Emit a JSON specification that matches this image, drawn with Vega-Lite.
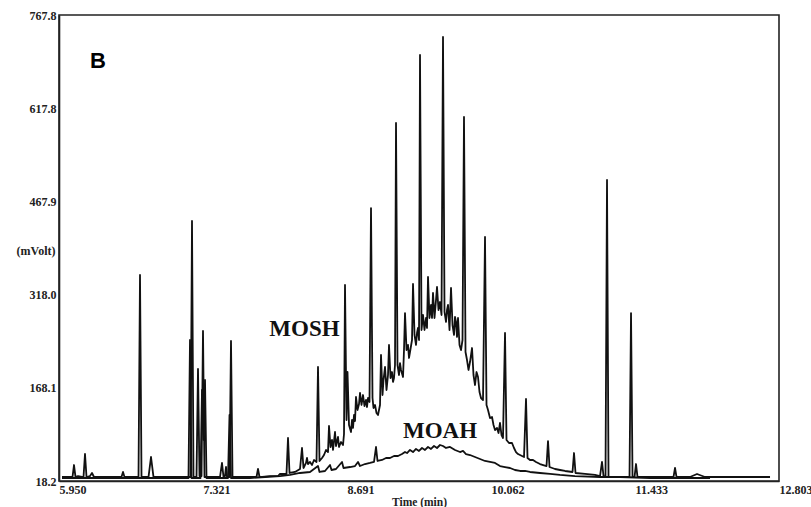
{
  "$schema": "https://vega.github.io/schema/vega-lite/v6.json",
  "width": 720,
  "height": 466,
  "autosize": "none",
  "padding": {"left": 59, "top": 15, "right": 32, "bottom": 26},
  "background": "white",
  "config": {
    "view": {"stroke": "#222", "strokeWidth": 1.6},
    "font": "Liberation Serif"
  },
  "datasets": {
    "signal": [
      {"trace": "MOSH", "t": 5.9786, "mv": 24.6}, {"trace": "MOSH", "t": 6.0547, "mv": 24.6}, {"trace": "MOSH", "t": 6.0785, "mv": 24.6},
      {"trace": "MOSH", "t": 6.0928, "mv": 43.9}, {"trace": "MOSH", "t": 6.1071, "mv": 24.6}, {"trace": "MOSH", "t": 6.1308, "mv": 26.2},
      {"trace": "MOSH", "t": 6.1832, "mv": 24.6}, {"trace": "MOSH", "t": 6.1975, "mv": 61.6}, {"trace": "MOSH", "t": 6.2118, "mv": 24.6},
      {"trace": "MOSH", "t": 6.2451, "mv": 26.2}, {"trace": "MOSH", "t": 6.2641, "mv": 31.1}, {"trace": "MOSH", "t": 6.2831, "mv": 24.6},
      {"trace": "MOSH", "t": 6.4354, "mv": 24.6}, {"trace": "MOSH", "t": 6.5449, "mv": 24.6}, {"trace": "MOSH", "t": 6.5592, "mv": 32.7},
      {"trace": "MOSH", "t": 6.5734, "mv": 24.6}, {"trace": "MOSH", "t": 6.7067, "mv": 24.6}, {"trace": "MOSH", "t": 6.721, "mv": 349.6},
      {"trace": "MOSH", "t": 6.7353, "mv": 24.6}, {"trace": "MOSH", "t": 6.8019, "mv": 24.6}, {"trace": "MOSH", "t": 6.8257, "mv": 56.8},
      {"trace": "MOSH", "t": 6.8495, "mv": 24.6}, {"trace": "MOSH", "t": 7.0541, "mv": 24.6}, {"trace": "MOSH", "t": 7.2017, "mv": 24.6},
      {"trace": "MOSH", "t": 7.2159, "mv": 436.4}, {"trace": "MOSH", "t": 7.2302, "mv": 24.6}, {"trace": "MOSH", "t": 7.2588, "mv": 24.6},
      {"trace": "MOSH", "t": 7.273, "mv": 198.4}, {"trace": "MOSH", "t": 7.2873, "mv": 26.2}, {"trace": "MOSH", "t": 7.3064, "mv": 26.2},
      {"trace": "MOSH", "t": 7.3206, "mv": 259.5}, {"trace": "MOSH", "t": 7.3349, "mv": 24.6}, {"trace": "MOSH", "t": 7.4824, "mv": 24.6},
      {"trace": "MOSH", "t": 7.5015, "mv": 47.2}, {"trace": "MOSH", "t": 7.5158, "mv": 24.6}, {"trace": "MOSH", "t": 7.53, "mv": 26.2},
      {"trace": "MOSH", "t": 7.5396, "mv": 40.7}, {"trace": "MOSH", "t": 7.5491, "mv": 24.6}, {"trace": "MOSH", "t": 7.5729, "mv": 24.6},
      {"trace": "MOSH", "t": 7.5871, "mv": 243.4}, {"trace": "MOSH", "t": 7.6014, "mv": 24.6}, {"trace": "MOSH", "t": 7.7204, "mv": 24.6},
      {"trace": "MOSH", "t": 7.8299, "mv": 24.6}, {"trace": "MOSH", "t": 7.8441, "mv": 37.5}, {"trace": "MOSH", "t": 7.8584, "mv": 24.6},
      {"trace": "MOSH", "t": 7.9584, "mv": 26.2}, {"trace": "MOSH", "t": 8.0345, "mv": 26.2}, {"trace": "MOSH", "t": 8.0535, "mv": 29.5},
      {"trace": "MOSH", "t": 8.1154, "mv": 29.5}, {"trace": "MOSH", "t": 8.1297, "mv": 87.4}, {"trace": "MOSH", "t": 8.144, "mv": 31.1},
      {"trace": "MOSH", "t": 8.1963, "mv": 32.7}, {"trace": "MOSH", "t": 8.2439, "mv": 37.5}, {"trace": "MOSH", "t": 8.2629, "mv": 71.3},
      {"trace": "MOSH", "t": 8.2772, "mv": 39.1}, {"trace": "MOSH", "t": 8.301, "mv": 47.2}, {"trace": "MOSH", "t": 8.3105, "mv": 55.2},
      {"trace": "MOSH", "t": 8.3201, "mv": 45.5}, {"trace": "MOSH", "t": 8.3391, "mv": 48.8}, {"trace": "MOSH", "t": 8.3581, "mv": 43.9},
      {"trace": "MOSH", "t": 8.3772, "mv": 52.0}, {"trace": "MOSH", "t": 8.401, "mv": 48.8}, {"trace": "MOSH", "t": 8.4152, "mv": 201.6},
      {"trace": "MOSH", "t": 8.4295, "mv": 50.4}, {"trace": "MOSH", "t": 8.4533, "mv": 55.2}, {"trace": "MOSH", "t": 8.4723, "mv": 60.0},
      {"trace": "MOSH", "t": 8.4914, "mv": 68.1}, {"trace": "MOSH", "t": 8.5104, "mv": 64.8}, {"trace": "MOSH", "t": 8.5199, "mv": 106.7},
      {"trace": "MOSH", "t": 8.5342, "mv": 72.9}, {"trace": "MOSH", "t": 8.5485, "mv": 84.2}, {"trace": "MOSH", "t": 8.558, "mv": 68.1},
      {"trace": "MOSH", "t": 8.5771, "mv": 97.0}, {"trace": "MOSH", "t": 8.5866, "mv": 74.5}, {"trace": "MOSH", "t": 8.6056, "mv": 89.0},
      {"trace": "MOSH", "t": 8.6151, "mv": 72.9}, {"trace": "MOSH", "t": 8.6342, "mv": 80.9}, {"trace": "MOSH", "t": 8.6532, "mv": 76.1},
      {"trace": "MOSH", "t": 8.6627, "mv": 93.8}, {"trace": "MOSH", "t": 8.6722, "mv": 333.5}, {"trace": "MOSH", "t": 8.6865, "mv": 116.3},
      {"trace": "MOSH", "t": 8.696, "mv": 193.5}, {"trace": "MOSH", "t": 8.7103, "mv": 108.3}, {"trace": "MOSH", "t": 8.7293, "mv": 97.0},
      {"trace": "MOSH", "t": 8.7389, "mv": 116.3}, {"trace": "MOSH", "t": 8.7484, "mv": 103.5}, {"trace": "MOSH", "t": 8.758, "mv": 124.4},
      {"trace": "MOSH", "t": 8.7674, "mv": 114.7}, {"trace": "MOSH", "t": 8.7769, "mv": 153.3}, {"trace": "MOSH", "t": 8.7912, "mv": 132.4},
      {"trace": "MOSH", "t": 8.8055, "mv": 142.1}, {"trace": "MOSH", "t": 8.815, "mv": 159.8}, {"trace": "MOSH", "t": 8.8293, "mv": 140.5},
      {"trace": "MOSH", "t": 8.8436, "mv": 156.5}, {"trace": "MOSH", "t": 8.8578, "mv": 138.8}, {"trace": "MOSH", "t": 8.8721, "mv": 148.5},
      {"trace": "MOSH", "t": 8.8816, "mv": 137.2}, {"trace": "MOSH", "t": 8.8912, "mv": 151.7}, {"trace": "MOSH", "t": 8.9054, "mv": 145.3},
      {"trace": "MOSH", "t": 8.9197, "mv": 457.3}, {"trace": "MOSH", "t": 8.934, "mv": 151.7}, {"trace": "MOSH", "t": 8.9435, "mv": 135.6},
      {"trace": "MOSH", "t": 8.9578, "mv": 140.5}, {"trace": "MOSH", "t": 8.9721, "mv": 127.6}, {"trace": "MOSH", "t": 8.9863, "mv": 124.4},
      {"trace": "MOSH", "t": 9.0054, "mv": 140.5}, {"trace": "MOSH", "t": 9.0149, "mv": 220.9}, {"trace": "MOSH", "t": 9.0292, "mv": 156.5},
      {"trace": "MOSH", "t": 9.0387, "mv": 180.7}, {"trace": "MOSH", "t": 9.053, "mv": 201.6}, {"trace": "MOSH", "t": 9.0672, "mv": 164.6},
      {"trace": "MOSH", "t": 9.0815, "mv": 188.7}, {"trace": "MOSH", "t": 9.091, "mv": 237.0}, {"trace": "MOSH", "t": 9.1053, "mv": 183.9},
      {"trace": "MOSH", "t": 9.1196, "mv": 193.5}, {"trace": "MOSH", "t": 9.1291, "mv": 177.5}, {"trace": "MOSH", "t": 9.1386, "mv": 183.9},
      {"trace": "MOSH", "t": 9.1481, "mv": 204.8}, {"trace": "MOSH", "t": 9.1577, "mv": 594.1}, {"trace": "MOSH", "t": 9.1719, "mv": 204.8},
      {"trace": "MOSH", "t": 9.1862, "mv": 188.7}, {"trace": "MOSH", "t": 9.1957, "mv": 207.9}, {"trace": "MOSH", "t": 9.2053, "mv": 196.8},
      {"trace": "MOSH", "t": 9.2243, "mv": 185.5}, {"trace": "MOSH", "t": 9.2338, "mv": 228.9}, {"trace": "MOSH", "t": 9.2433, "mv": 288.4},
      {"trace": "MOSH", "t": 9.2576, "mv": 228.9}, {"trace": "MOSH", "t": 9.2719, "mv": 237.0}, {"trace": "MOSH", "t": 9.2814, "mv": 216.1},
      {"trace": "MOSH", "t": 9.2909, "mv": 225.7}, {"trace": "MOSH", "t": 9.31, "mv": 245.0}, {"trace": "MOSH", "t": 9.3195, "mv": 335.1},
      {"trace": "MOSH", "t": 9.3338, "mv": 253.1}, {"trace": "MOSH", "t": 9.348, "mv": 237.0}, {"trace": "MOSH", "t": 9.3576, "mv": 256.3},
      {"trace": "MOSH", "t": 9.3671, "mv": 264.3}, {"trace": "MOSH", "t": 9.3766, "mv": 245.0}, {"trace": "MOSH", "t": 9.3861, "mv": 703.5},
      {"trace": "MOSH", "t": 9.4004, "mv": 261.1}, {"trace": "MOSH", "t": 9.4147, "mv": 285.2}, {"trace": "MOSH", "t": 9.4289, "mv": 261.1},
      {"trace": "MOSH", "t": 9.4432, "mv": 280.4}, {"trace": "MOSH", "t": 9.4527, "mv": 264.3}, {"trace": "MOSH", "t": 9.4623, "mv": 346.4},
      {"trace": "MOSH", "t": 9.4765, "mv": 280.4}, {"trace": "MOSH", "t": 9.4908, "mv": 301.3}, {"trace": "MOSH", "t": 9.5003, "mv": 280.4},
      {"trace": "MOSH", "t": 9.5098, "mv": 320.6}, {"trace": "MOSH", "t": 9.5241, "mv": 280.4}, {"trace": "MOSH", "t": 9.5384, "mv": 309.4},
      {"trace": "MOSH", "t": 9.5479, "mv": 330.3}, {"trace": "MOSH", "t": 9.5622, "mv": 293.3}, {"trace": "MOSH", "t": 9.5765, "mv": 306.1},
      {"trace": "MOSH", "t": 9.5908, "mv": 285.2}, {"trace": "MOSH", "t": 9.605, "mv": 732.4}, {"trace": "MOSH", "t": 9.6193, "mv": 290.1},
      {"trace": "MOSH", "t": 9.6336, "mv": 274.0}, {"trace": "MOSH", "t": 9.6431, "mv": 293.3}, {"trace": "MOSH", "t": 9.6526, "mv": 301.3},
      {"trace": "MOSH", "t": 9.6669, "mv": 261.1}, {"trace": "MOSH", "t": 9.6812, "mv": 328.7}, {"trace": "MOSH", "t": 9.6955, "mv": 269.1},
      {"trace": "MOSH", "t": 9.7097, "mv": 253.1}, {"trace": "MOSH", "t": 9.7192, "mv": 282.0}, {"trace": "MOSH", "t": 9.7288, "mv": 274.0},
      {"trace": "MOSH", "t": 9.7383, "mv": 250.0}, {"trace": "MOSH", "t": 9.7478, "mv": 280.4}, {"trace": "MOSH", "t": 9.7621, "mv": 237.0},
      {"trace": "MOSH", "t": 9.7764, "mv": 228.9}, {"trace": "MOSH", "t": 9.7906, "mv": 245.0}, {"trace": "MOSH", "t": 9.8048, "mv": 603.7},
      {"trace": "MOSH", "t": 9.8192, "mv": 225.7}, {"trace": "MOSH", "t": 9.8335, "mv": 212.8}, {"trace": "MOSH", "t": 9.8477, "mv": 196.8},
      {"trace": "MOSH", "t": 9.862, "mv": 209.6}, {"trace": "MOSH", "t": 9.8811, "mv": 232.1}, {"trace": "MOSH", "t": 9.8953, "mv": 188.7},
      {"trace": "MOSH", "t": 9.9096, "mv": 172.6}, {"trace": "MOSH", "t": 9.9239, "mv": 193.5}, {"trace": "MOSH", "t": 9.9382, "mv": 185.5},
      {"trace": "MOSH", "t": 9.9524, "mv": 161.4}, {"trace": "MOSH", "t": 9.9667, "mv": 151.7}, {"trace": "MOSH", "t": 9.9858, "mv": 148.5},
      {"trace": "MOSH", "t": 10.0048, "mv": 410.7}, {"trace": "MOSH", "t": 10.0191, "mv": 140.5}, {"trace": "MOSH", "t": 10.0334, "mv": 132.4},
      {"trace": "MOSH", "t": 10.0524, "mv": 119.5}, {"trace": "MOSH", "t": 10.0714, "mv": 121.2}, {"trace": "MOSH", "t": 10.0857, "mv": 108.3},
      {"trace": "MOSH", "t": 10.1, "mv": 100.2}, {"trace": "MOSH", "t": 10.119, "mv": 103.5}, {"trace": "MOSH", "t": 10.1333, "mv": 95.4},
      {"trace": "MOSH", "t": 10.1476, "mv": 111.5}, {"trace": "MOSH", "t": 10.1618, "mv": 92.2}, {"trace": "MOSH", "t": 10.1761, "mv": 87.4},
      {"trace": "MOSH", "t": 10.1952, "mv": 256.3}, {"trace": "MOSH", "t": 10.2094, "mv": 84.2}, {"trace": "MOSH", "t": 10.2332, "mv": 79.3},
      {"trace": "MOSH", "t": 10.2618, "mv": 79.3}, {"trace": "MOSH", "t": 10.2808, "mv": 71.3}, {"trace": "MOSH", "t": 10.2999, "mv": 64.8},
      {"trace": "MOSH", "t": 10.3189, "mv": 61.6}, {"trace": "MOSH", "t": 10.3379, "mv": 60.0}, {"trace": "MOSH", "t": 10.376, "mv": 56.8},
      {"trace": "MOSH", "t": 10.395, "mv": 150.1}, {"trace": "MOSH", "t": 10.4093, "mv": 55.2}, {"trace": "MOSH", "t": 10.4331, "mv": 52.0},
      {"trace": "MOSH", "t": 10.4617, "mv": 52.0}, {"trace": "MOSH", "t": 10.4902, "mv": 48.8}, {"trace": "MOSH", "t": 10.5283, "mv": 45.5},
      {"trace": "MOSH", "t": 10.5902, "mv": 42.3}, {"trace": "MOSH", "t": 10.6044, "mv": 82.5}, {"trace": "MOSH", "t": 10.6187, "mv": 40.7},
      {"trace": "MOSH", "t": 10.6711, "mv": 37.5}, {"trace": "MOSH", "t": 10.7187, "mv": 35.9}, {"trace": "MOSH", "t": 10.7663, "mv": 34.3},
      {"trace": "MOSH", "t": 10.8377, "mv": 32.7}, {"trace": "MOSH", "t": 10.8519, "mv": 63.2}, {"trace": "MOSH", "t": 10.8662, "mv": 31.1},
      {"trace": "MOSH", "t": 10.9566, "mv": 29.5}, {"trace": "MOSH", "t": 11.0518, "mv": 27.9}, {"trace": "MOSH", "t": 11.0994, "mv": 26.2},
      {"trace": "MOSH", "t": 11.1184, "mv": 48.8}, {"trace": "MOSH", "t": 11.1327, "mv": 26.2}, {"trace": "MOSH", "t": 11.1517, "mv": 24.6},
      {"trace": "MOSH", "t": 11.166, "mv": 502.4}, {"trace": "MOSH", "t": 11.1803, "mv": 24.6}, {"trace": "MOSH", "t": 11.2898, "mv": 24.6},
      {"trace": "MOSH", "t": 11.3802, "mv": 24.6}, {"trace": "MOSH", "t": 11.3945, "mv": 288.4}, {"trace": "MOSH", "t": 11.4088, "mv": 24.6},
      {"trace": "MOSH", "t": 11.4278, "mv": 24.6}, {"trace": "MOSH", "t": 11.4421, "mv": 45.5}, {"trace": "MOSH", "t": 11.4563, "mv": 24.6},
      {"trace": "MOSH", "t": 11.6705, "mv": 24.6}, {"trace": "MOSH", "t": 11.799, "mv": 24.6}, {"trace": "MOSH", "t": 11.8133, "mv": 39.1},
      {"trace": "MOSH", "t": 11.8275, "mv": 24.6}, {"trace": "MOSH", "t": 11.956, "mv": 24.6}, {"trace": "MOSH", "t": 12.0227, "mv": 29.5},
      {"trace": "MOSH", "t": 12.0988, "mv": 24.6}, {"trace": "MOSH", "t": 12.7175, "mv": 24.6},

      {"trace": "MOAH", "t": 5.9786, "mv": 23.0}, {"trace": "MOAH", "t": 6.5306, "mv": 23.0}, {"trace": "MOAH", "t": 7.1826, "mv": 23.0},
      {"trace": "MOAH", "t": 7.1969, "mv": 245.0}, {"trace": "MOAH", "t": 7.2112, "mv": 23.0}, {"trace": "MOAH", "t": 7.2968, "mv": 23.0},
      {"trace": "MOAH", "t": 7.3111, "mv": 164.6}, {"trace": "MOAH", "t": 7.3254, "mv": 84.2}, {"trace": "MOAH", "t": 7.3397, "mv": 180.7},
      {"trace": "MOAH", "t": 7.3539, "mv": 23.0}, {"trace": "MOAH", "t": 7.5586, "mv": 23.0}, {"trace": "MOAH", "t": 7.5729, "mv": 124.4},
      {"trace": "MOAH", "t": 7.5871, "mv": 23.0}, {"trace": "MOAH", "t": 7.768, "mv": 23.0}, {"trace": "MOAH", "t": 7.9108, "mv": 24.6},
      {"trace": "MOAH", "t": 8.0535, "mv": 26.2}, {"trace": "MOAH", "t": 8.1487, "mv": 27.9}, {"trace": "MOAH", "t": 8.2439, "mv": 31.1},
      {"trace": "MOAH", "t": 8.3391, "mv": 32.7}, {"trace": "MOAH", "t": 8.4152, "mv": 42.3}, {"trace": "MOAH", "t": 8.4295, "mv": 32.7},
      {"trace": "MOAH", "t": 8.4819, "mv": 34.3}, {"trace": "MOAH", "t": 8.5295, "mv": 43.9}, {"trace": "MOAH", "t": 8.5437, "mv": 35.9},
      {"trace": "MOAH", "t": 8.5866, "mv": 37.5}, {"trace": "MOAH", "t": 8.6437, "mv": 48.8}, {"trace": "MOAH", "t": 8.658, "mv": 39.1},
      {"trace": "MOAH", "t": 8.7198, "mv": 40.7}, {"trace": "MOAH", "t": 8.7674, "mv": 42.3}, {"trace": "MOAH", "t": 8.796, "mv": 48.8},
      {"trace": "MOAH", "t": 8.815, "mv": 42.3}, {"trace": "MOAH", "t": 8.8626, "mv": 45.5}, {"trace": "MOAH", "t": 8.9102, "mv": 47.2},
      {"trace": "MOAH", "t": 8.9483, "mv": 48.8}, {"trace": "MOAH", "t": 8.9673, "mv": 72.9}, {"trace": "MOAH", "t": 8.9816, "mv": 50.4},
      {"trace": "MOAH", "t": 9.0244, "mv": 52.0}, {"trace": "MOAH", "t": 9.0625, "mv": 55.2}, {"trace": "MOAH", "t": 9.1006, "mv": 55.2},
      {"trace": "MOAH", "t": 9.1386, "mv": 58.4}, {"trace": "MOAH", "t": 9.1767, "mv": 58.4}, {"trace": "MOAH", "t": 9.2148, "mv": 61.6},
      {"trace": "MOAH", "t": 9.2433, "mv": 64.8}, {"trace": "MOAH", "t": 9.2624, "mv": 63.2}, {"trace": "MOAH", "t": 9.2909, "mv": 68.1},
      {"trace": "MOAH", "t": 9.3195, "mv": 64.8}, {"trace": "MOAH", "t": 9.348, "mv": 69.7}, {"trace": "MOAH", "t": 9.3766, "mv": 66.5},
      {"trace": "MOAH", "t": 9.4051, "mv": 71.3}, {"trace": "MOAH", "t": 9.4337, "mv": 68.1}, {"trace": "MOAH", "t": 9.4623, "mv": 72.9},
      {"trace": "MOAH", "t": 9.4908, "mv": 69.7}, {"trace": "MOAH", "t": 9.5194, "mv": 74.5}, {"trace": "MOAH", "t": 9.5479, "mv": 71.3},
      {"trace": "MOAH", "t": 9.5765, "mv": 76.1}, {"trace": "MOAH", "t": 9.605, "mv": 74.5}, {"trace": "MOAH", "t": 9.6336, "mv": 71.3},
      {"trace": "MOAH", "t": 9.6717, "mv": 72.9}, {"trace": "MOAH", "t": 9.7192, "mv": 68.1}, {"trace": "MOAH", "t": 9.7668, "mv": 64.8},
      {"trace": "MOAH", "t": 9.7954, "mv": 66.5}, {"trace": "MOAH", "t": 9.8239, "mv": 61.6}, {"trace": "MOAH", "t": 9.862, "mv": 60.0},
      {"trace": "MOAH", "t": 9.9096, "mv": 56.8}, {"trace": "MOAH", "t": 9.9572, "mv": 53.6}, {"trace": "MOAH", "t": 10.0048, "mv": 50.4},
      {"trace": "MOAH", "t": 10.0524, "mv": 48.8}, {"trace": "MOAH", "t": 10.1, "mv": 47.2}, {"trace": "MOAH", "t": 10.1476, "mv": 42.3},
      {"trace": "MOAH", "t": 10.1952, "mv": 40.7}, {"trace": "MOAH", "t": 10.2428, "mv": 39.1}, {"trace": "MOAH", "t": 10.2904, "mv": 35.9},
      {"trace": "MOAH", "t": 10.3379, "mv": 34.3}, {"trace": "MOAH", "t": 10.3855, "mv": 34.3}, {"trace": "MOAH", "t": 10.4331, "mv": 32.7},
      {"trace": "MOAH", "t": 10.5283, "mv": 31.1}, {"trace": "MOAH", "t": 10.6235, "mv": 29.5}, {"trace": "MOAH", "t": 10.7187, "mv": 27.9},
      {"trace": "MOAH", "t": 10.8614, "mv": 26.2}, {"trace": "MOAH", "t": 11.0994, "mv": 24.6}, {"trace": "MOAH", "t": 11.2898, "mv": 24.6},
      {"trace": "MOAH", "t": 11.5753, "mv": 23.0}, {"trace": "MOAH", "t": 11.8609, "mv": 23.0}, {"trace": "MOAH", "t": 12.0512, "mv": 23.0},
      {"trace": "MOAH", "t": 12.1464, "mv": 23.0}
    ],
    "notes": [
      {"label": "B", "t": 6.321, "mv": 695.4, "kind": "panel"},
      {"label": "MOSH", "t": 8.2867, "mv": 264.3, "kind": "trace"},
      {"label": "MOAH", "t": 9.5764, "mv": 101.0, "kind": "trace"}
    ]
  },
  "layer": [
    {
      "data": {"name": "signal"},
      "mark": {"type": "line", "color": "#111", "strokeWidth": 1.8, "strokeJoin": "round"},
      "encoding": {
        "x": {
          "field": "t", "type": "quantitative",
          "scale": {"domain": [5.95, 12.803], "nice": false, "zero": false},
          "axis": {
            "values": [5.95, 7.321, 8.691, 10.062, 11.433, 12.803],
            "format": ".3f", "labelAlign": "left", "labelFont": "Liberation Serif",
            "labelFontWeight": "bold", "labelFontSize": 12, "labelColor": "#222",
            "labelPadding": 3, "labelOverlap": false, "labelFlush": false,
            "ticks": false, "grid": false, "domainColor": "#222", "domainWidth": 1.6,
            "title": "Time (min)", "titleFont": "Liberation Serif", "titleFontSize": 11.5,
            "titleFontWeight": "bold", "titleColor": "#222", "titlePadding": 1
          }
        },
        "y": {
          "field": "mv", "type": "quantitative",
          "scale": {"domain": [18.2, 767.8], "nice": false, "zero": false},
          "axis": {
            "values": [18.2, 168.1, 318.0, 467.9, 617.8, 767.8],
            "format": ".1f", "labelFont": "Liberation Serif", "labelFontWeight": "bold",
            "labelFontSize": 12, "labelColor": "#222", "labelPadding": 3, "labelOverlap": false,
            "ticks": false, "grid": false, "domainColor": "#222", "domainWidth": 1.6,
            "title": "(mVolt)", "titleAngle": 0, "titleAlign": "right", "titleBaseline": "middle",
            "titleX": -4, "titleY": 235, "titleFont": "Liberation Serif", "titleFontSize": 12,
            "titleFontWeight": "bold", "titleColor": "#222"
          }
        },
        "detail": {"field": "trace"}
      }
    },
    {
      "data": {"name": "notes"},
      "transform": [{"filter": "datum.kind == 'trace'"}],
      "mark": {"type": "text", "font": "Liberation Serif", "fontWeight": "bold", "fontSize": 23, "color": "#111", "align": "center", "baseline": "middle", "dy": 1},
      "encoding": {
        "x": {"field": "t", "type": "quantitative"},
        "y": {"field": "mv", "type": "quantitative"},
        "text": {"field": "label"}
      }
    },
    {
      "data": {"name": "notes"},
      "transform": [{"filter": "datum.kind == 'panel'"}],
      "mark": {"type": "text", "font": "Liberation Sans", "fontWeight": "bold", "fontSize": 22, "color": "#000", "align": "center", "baseline": "middle", "dy": 1},
      "encoding": {
        "x": {"field": "t", "type": "quantitative"},
        "y": {"field": "mv", "type": "quantitative"},
        "text": {"field": "label"}
      }
    }
  ]
}
